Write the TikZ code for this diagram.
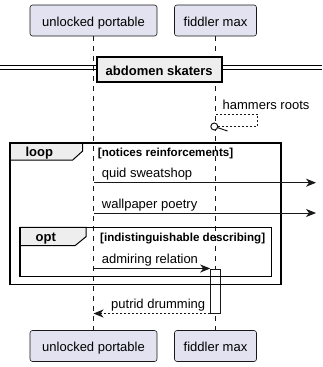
\documentclass[tikz,border=0pt]{standalone}
\usepackage{fontspec}
\setmainfont{Liberation Sans}
\usetikzlibrary{arrows.meta}
\definecolor{partfill}{HTML}{E2E2F0}
\definecolor{ink}{HTML}{181818}
\definecolor{tabfill}{HTML}{EEEEEE}
\tikzset{
  participant/.style={draw=ink, fill=partfill, line width=0.6pt, rounded corners=2.5pt,
    minimum height=31pt, inner sep=0pt, text height=12pt, text depth=1pt,
    font=\fontsize{13}{15}\selectfont},
  lifeline/.style={draw=ink, line width=0.5pt, dash pattern=on 5pt off 5pt},
  msg/.style={draw=ink, line width=0.8pt, -{Stealth[length=10pt,width=8pt,inset=3pt]}},
  reply/.style={msg, dash pattern=on 2pt off 2pt},
  msgtext/.style={anchor=base west, inner sep=0pt, font=\fontsize{13}{15}\selectfont},
  frameline/.style={draw=black, line width=1.5pt},
  tabshape/.style={fill=tabfill, draw=black, line width=1pt},
  tabtext/.style={anchor=base, inner sep=0pt, font=\bfseries\fontsize{13}{15}\selectfont},
  guardtext/.style={anchor=base west, inner sep=0pt, font=\bfseries\fontsize{11.6}{14}\selectfont},
  divider/.style={fill=tabfill, draw=black, line width=2pt, inner sep=0pt,
    text height=13pt, text depth=0.5pt, font=\bfseries\fontsize{13}{15}\selectfont},
  activation/.style={fill=white, draw=ink, line width=1pt, inner sep=0pt},
}
\begin{document}
\begin{tikzpicture}[x=1pt, y=-1pt]
\useasboundingbox (0,0) rectangle (322,367);

% participants, top and bottom
\node[participant, minimum width=127pt] (up)  at (93.5,20.5) {unlocked portable};
\node[participant, minimum width=82pt]  (fm)  at (215.5,20.5) {fiddler max};
\node[participant, minimum width=127pt] (upb) at (93.5,346) {unlocked portable};
\node[participant, minimum width=82pt]  (fmb) at (215.5,346) {fiddler max};

% lifelines
\draw[lifeline] (up) -- (upb);
\draw[lifeline] (fm) -- (fmb);

% separator
\draw[line width=1pt] (0,65.5) -- (322,65.5);
\draw[line width=1pt] (0,69.5) -- (322,69.5);
\node[divider, minimum width=125pt, minimum height=24.4pt] (div) at (159.2,69.5) {abdomen skaters};

% self message with circle end
\coordinate (s0) at (215.5,114);
\coordinate (s1) at (257.7,114);
\coordinate (s2) at (257.7,126.5);
\coordinate (s3) at (218,126.5);
\coordinate (sc) at (214.3,126.5);
\draw[ink, line width=0.8pt, dash pattern=on 2pt off 2pt] (s0) -- (s1) -- (s2) -- (s3);
\draw[ink, line width=1pt, fill=white] (sc) circle (3.5pt);
\draw[ink, line width=1pt] (217.6,127.6) -- (227.5,131);
\node[msgtext] (st) at (222.5,109.5) {hammers roots};

% activation bar
\node[activation, minimum width=10pt, minimum height=44pt] (act) at (215.7,291) {};

% loop frame
\draw[tabshape] (10,143) -- (82.7,143) -- (82.7,151) -- (72.7,160) -- (10,160) -- cycle;
\draw[frameline] (10,143) rectangle (281,284.3);
\node[tabtext] (looplabel) at (39.3,156) {loop};
\node[guardtext] (loopguard) at (97.7,156) {[notices reinforcements]};

% opt frame
\draw[tabshape] (20,227.3) -- (86,227.3) -- (86,236.7) -- (75,245.7) -- (20,245.7) -- cycle;
\draw[frameline] (20,227.3) rectangle (271.7,276.7);
\node[tabtext] (optlabel) at (45.8,241) {opt};
\node[guardtext] (optguard) at (100,241) {[indistinguishable describing]};

% messages
\coordinate (m1a) at (93.5,182.7);
\coordinate (m1b) at (316,182.7);
\draw[msg] (m1a) -- (m1b);
\node[msgtext] (m1t) at (101.7,177) {quid sweatshop};

\coordinate (m2a) at (93.5,213);
\coordinate (m2b) at (316,213);
\draw[msg] (m2a) -- (m2b);
\node[msgtext] (m2t) at (101.7,208.3) {wallpaper poetry};

\draw[msg] (up |- act.north) -- (act.north west);
\node[msgtext] (m3t) at (101.7,263.5) {admiring relation};

\draw[reply] (act.south west) -- (up |- act.south);
\node[msgtext] (m4t) at (111,308.3) {putrid drumming};
\end{tikzpicture}
\end{document}
